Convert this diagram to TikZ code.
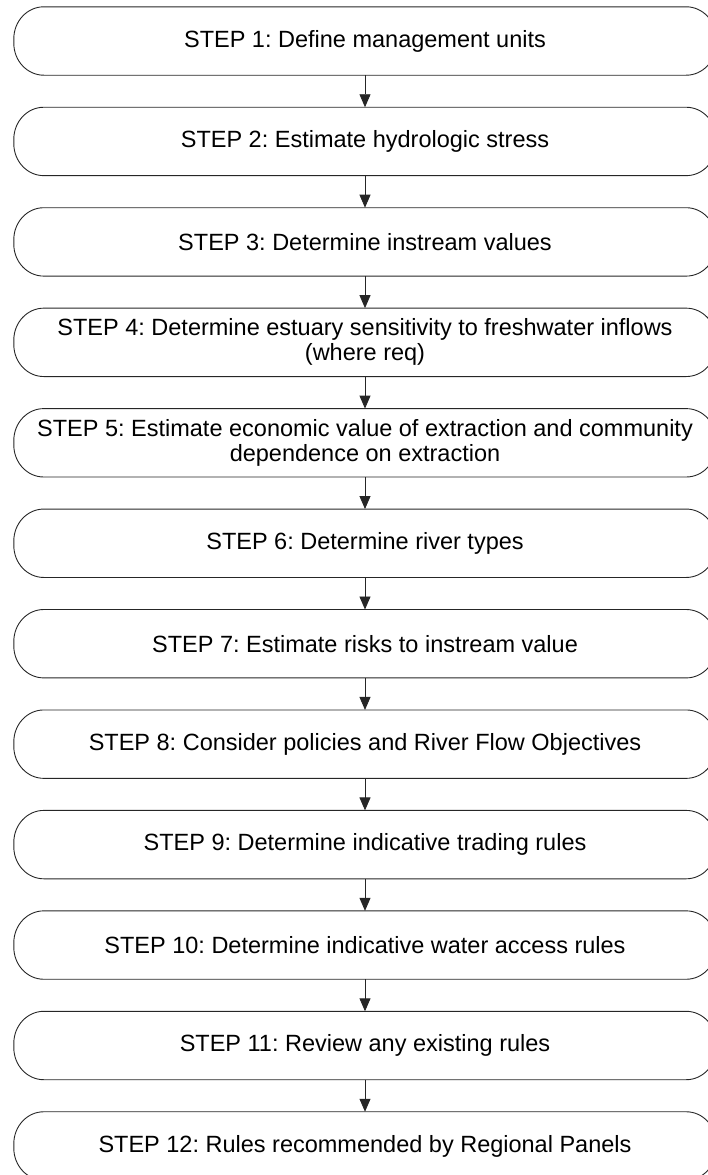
\documentclass[tikz,border=0pt]{standalone}
\usepackage{fontspec}
\setmainfont{Liberation Sans}
\usetikzlibrary{arrows.meta}
\begin{document}
\frenchspacing
\begin{tikzpicture}[x=1pt,y=-1pt,
  stepbox/.style={minimum width=702pt, minimum height=68pt, inner sep=0pt,
    align=center, font=\fontsize{23.5pt}{25pt}\selectfont},
  outline/.style={draw=black!85, line width=0.9pt},
  flow/.style={draw=black!85, line width=0.9pt,
    -{Triangle[length=13pt,width=11pt]}}]
\useasboundingbox (0,0) rectangle (708,1175);
\clip (0,0) rectangle (708,1175);

% process steps, top to bottom
\node[stepbox] (s1)  at (365,41)      {STEP 1: Define management units};
\node[stepbox] (s2)  at (365,141.45)  {STEP 2: Estimate hydrologic stress};
\node[stepbox] (s3)  at (365,241.9)   {STEP 3: Determine instream values};
\node[stepbox] (s4)  at (365,342.35)  {STEP 4: Determine estuary sensitivity to freshwater inflows\\(where req)};
\node[stepbox] (s5)  at (365,442.8)   {STEP 5: Estimate economic value of extraction and community\\dependence on extraction};
\node[stepbox] (s6)  at (365,543.25)  {STEP 6: Determine river types};
\node[stepbox] (s7)  at (365,643.7)   {STEP 7: Estimate risks to instream value};
\node[stepbox] (s8)  at (365,744.15)  {STEP 8: Consider policies and River Flow Objectives};
\node[stepbox] (s9)  at (365,844.6)   {STEP 9: Determine indicative trading rules};
\node[stepbox] (s10) at (365,945.05)  {STEP 10: Determine indicative water access rules};
\node[stepbox] (s11) at (365,1045.5)  {STEP 11: Review any existing rules};
\node[stepbox] (s12) at (365,1145.95) {STEP 12: Rules recommended by Regional Panels};

% terminator outlines with elliptic corners
\foreach \i in {1,...,12}
  \draw[outline] ([xshift=30pt]s\i.north west) -- ([xshift=-30pt]s\i.north east)
    arc[start angle=90,end angle=0,x radius=30pt,y radius=32pt]
    -- ([yshift=32pt]s\i.south east)
    arc[start angle=0,end angle=-90,x radius=30pt,y radius=32pt]
    -- ([xshift=30pt]s\i.south west)
    arc[start angle=-90,end angle=-180,x radius=30pt,y radius=32pt]
    -- ([yshift=-32pt]s\i.north west)
    arc[start angle=180,end angle=90,x radius=30pt,y radius=32pt]
    -- cycle;

% connectors between consecutive steps
\foreach \a/\b in {1/2,2/3,3/4,4/5,5/6,6/7,7/8,8/9,9/10,10/11,11/12}
  \draw[flow] (s\a.south) -- (s\b.north);
\end{tikzpicture}
\end{document}
